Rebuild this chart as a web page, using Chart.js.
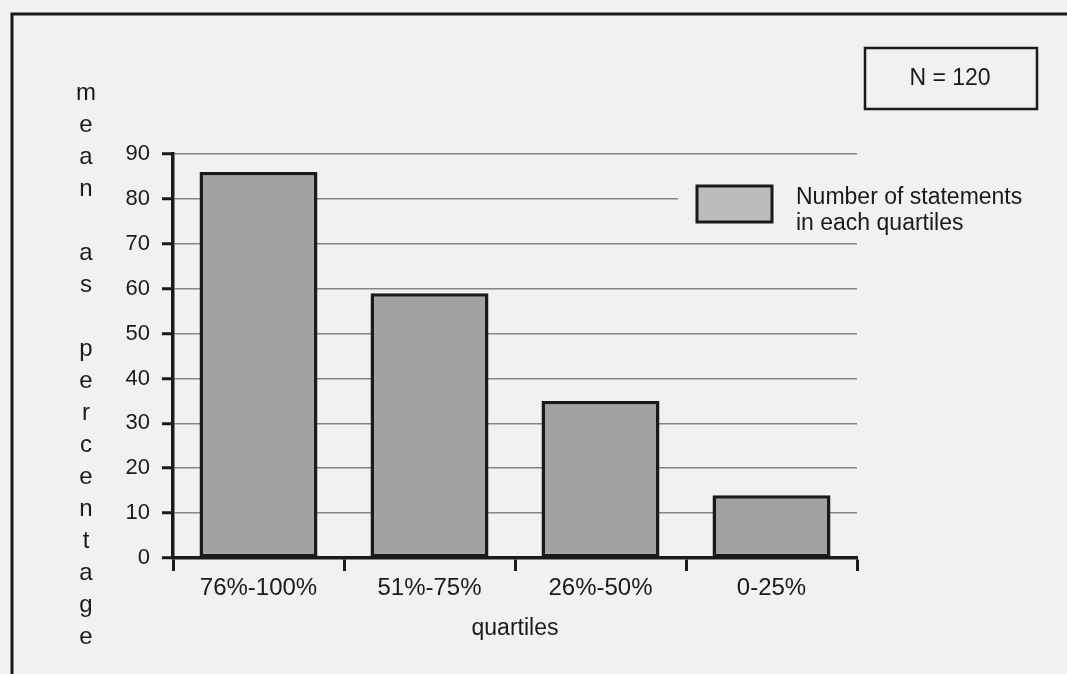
<!DOCTYPE html>
<html>
<head>
<meta charset="utf-8">
<script src="https://cdn.jsdelivr.net/npm/chart.js@4.4.1/dist/chart.umd.min.js"></script>
<style>
  html, body { margin: 0; padding: 0; background: #f1f1f1; }
  #wrap { width: 1067px; height: 674px; }
</style>
</head>
<body>
<div id="wrap"><canvas id="c" width="1067" height="674"></canvas></div>
<script>
// Quartile categories and the mean percentage of statements in each
const categories = ['76%-100%', '51%-75%', '26%-50%', '0-25%'];
const meanPercent = [86, 59, 35, 14];
const seriesLabel = ['Number of statements', 'in each quartiles'];
const yTicks = [0, 10, 20, 30, 40, 50, 60, 70, 80, 90];
const yTitleLetters = ['m','e','a','n','','a','s','','p','e','r','c','e','n','t','a','g','e'];
const xTitle = 'quartiles';
const sampleNote = 'N = 120';

const FONT = '"Liberation Sans", Arial, Helvetica, sans-serif';
const INK = '#1a1a1a';
const BAR_FILL = '#a2a2a2';
const PAPER = '#f1f1f1';

// Page background, outer frame, stacked axis title, legend and sample-size box
const decorations = {
  id: 'decorations',
  beforeDraw(chart) {
    const ctx = chart.ctx;
    ctx.save();
    ctx.fillStyle = PAPER;
    ctx.fillRect(0, 0, chart.width, chart.height);
    ctx.restore();
  },
  afterDraw(chart) {
    const ctx = chart.ctx;
    ctx.save();
    ctx.strokeStyle = INK;
    ctx.fillStyle = INK;

    // frame around the figure
    ctx.lineWidth = 3;
    ctx.beginPath();
    ctx.moveTo(12, chart.height);
    ctx.lineTo(12, 14);
    ctx.lineTo(chart.width, 14);
    ctx.stroke();

    // vertical, letter-by-letter y title
    ctx.font = '24px ' + FONT;
    ctx.textAlign = 'center';
    ctx.textBaseline = 'middle';
    yTitleLetters.forEach((ch, i) => {
      if (ch) ctx.fillText(ch, 86, 93 + i * 32);
    });

    // legend: opaque panel over the grid, then swatch and text
    ctx.fillStyle = PAPER;
    ctx.fillRect(678, 172, 182, 60);
    ctx.fillStyle = '#bcbcbc';
    ctx.fillRect(697, 186, 75, 36);
    ctx.lineWidth = 3;
    ctx.strokeRect(697, 186, 75, 36);
    ctx.fillStyle = INK;
    ctx.font = '23px ' + FONT;
    ctx.textAlign = 'left';
    seriesLabel.forEach((line, i) => ctx.fillText(line, 796, 198 + i * 26));

    // sample size box
    ctx.lineWidth = 2.5;
    ctx.strokeRect(865, 48, 172, 61);
    ctx.textAlign = 'center';
    ctx.fillText(sampleNote, 950, 79);
    ctx.restore();
  }
};

new Chart(document.getElementById('c'), {
  type: 'bar',
  data: {
    labels: categories,
    datasets: [{
      label: seriesLabel.join(' '),
      data: meanPercent,
      backgroundColor: BAR_FILL,
      borderColor: INK,
      borderWidth: 3.5,
      borderSkipped: false,
      categoryPercentage: 1.0,
      barPercentage: 0.69
    }]
  },
  options: {
    responsive: false,
    animation: false,
    devicePixelRatio: 1,
    layout: { padding: { top: 154, right: 210, left: 0, bottom: 0 } },
    plugins: {
      legend: { display: false },
      tooltip: { enabled: false }
    },
    scales: {
      x: {
        grid: {
          offset: true,
          drawOnChartArea: false,
          drawTicks: true,
          tickLength: 13,
          tickColor: INK,
          tickWidth: 3
        },
        border: { display: true, color: INK, width: 3.5 },
        ticks: {
          color: INK,
          font: { family: FONT, size: 24 },
          padding: 3,
          maxRotation: 0
        },
        title: {
          display: true,
          text: xTitle,
          color: INK,
          font: { family: FONT, size: 23 },
          padding: { top: 0, bottom: 32 }
        },
        afterFit(scale) { scale.height = 116; }
      },
      y: {
        min: 0,
        max: 90,
        afterBuildTicks(scale) { scale.ticks = yTicks.map(v => ({ value: v })); },
        grid: {
          color: '#858585',
          lineWidth: 1.5,
          drawTicks: true,
          tickLength: 11,
          tickColor: INK,
          tickWidth: 3
        },
        border: { display: true, color: INK, width: 3.5 },
        ticks: {
          color: INK,
          font: { family: FONT, size: 22 },
          padding: 12
        },
        afterFit(scale) { scale.width = 173; }
      }
    }
  },
  plugins: [decorations]
});
</script>
</body>
</html>
